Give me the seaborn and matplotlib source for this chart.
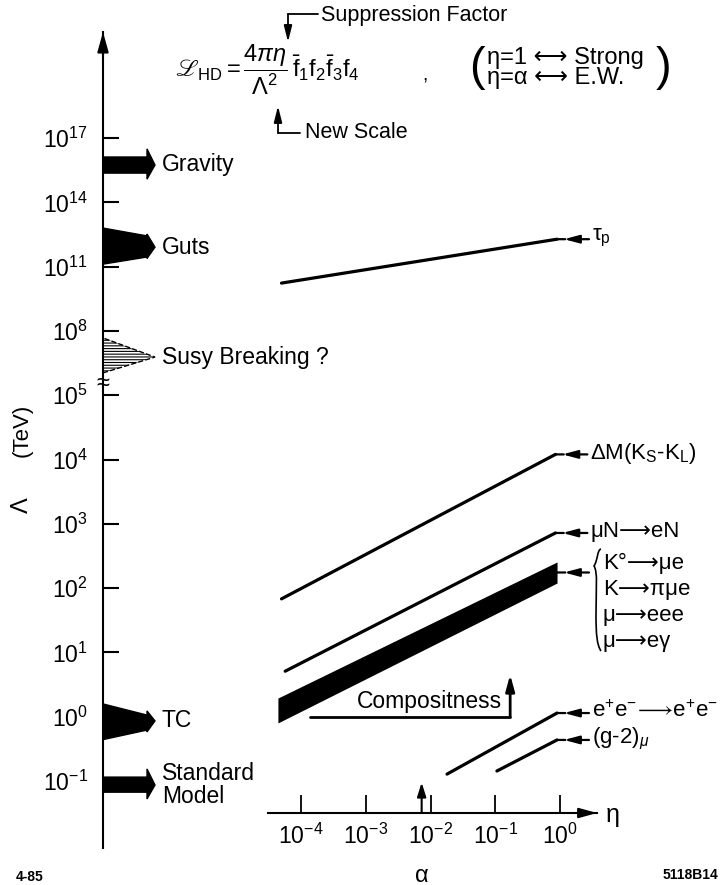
import numpy as np
import pandas as pd
import matplotlib
matplotlib.use("Agg")
import matplotlib.pyplot as plt
import matplotlib.transforms as mtransforms
from matplotlib.patches import Polygon, PathPatch
from matplotlib.path import Path
from matplotlib.lines import Line2D
from matplotlib.ticker import FixedLocator, FixedFormatter, NullLocator
import seaborn as sns

# ---------------- data ----------------
proc_labels = [r"τ$_{\rm p}$", r"ΔM(K$_{\rm S}$-K$_{\rm L}$)", "μN⟶eN",
               r"e$^{+}$e$^{-}\!\longrightarrow\!$e$^{+}$e$^{-}$", r"(g-2)$_{\mu}$"]
eta_start = [5.0e-5, 5.0e-5, 5.7e-5, 0.018, 0.106]
eta_end = [0.9, 0.85, 0.85, 0.9, 0.9]
lam_start = [1.7e10, 68.0, 5.1, 0.128, 0.143]
lam_end = [1.9e12, 1.2e4, 720.0, 1.14, 0.435]

band_eta = [4.4e-5, 0.9]
band_lo = [0.8, 120.0]
band_hi = [1.95, 255.0]
band_labels = ["K°⟶μe", "K⟶πμe", "μ⟶eee", "μ⟶eγ"]

compos_eta = [1.4e-4, 0.17]
compos_lam = 1.0
compos_arrow_top = 4.5

lam_ticks = [1e-1, 1e0, 1e1, 1e2, 1e3, 1e4, 1e5, 1e8, 1e11, 1e14, 1e17]
lam_tick_labels = [r"$10^{-1}$", r"$10^{0}$", r"$10^{1}$", r"$10^{2}$", r"$10^{3}$",
                   r"$10^{4}$", r"$10^{5}$", r"$10^{8}$", r"$10^{11}$", r"$10^{14}$",
                   r"$10^{17}$"]
eta_ticks = [1e-4, 1e-3, 1e-2, 1e-1, 1e0]
eta_tick_labels = [r"$10^{-4}$", r"$10^{-3}$", r"$10^{-2}$", r"$10^{-1}$", r"$10^{0}$"]
alpha_em = 1 / 137.0

# scales on the Lambda axis (TeV): body lo, body hi, head lo, head hi, tip
gravity_lam = [2.3e15, 1.3e16, 1.2e15, 3.1e16, 5.5e15]
sm_lam = [0.067, 0.115, 0.0525, 0.154, 0.0867]
# tapered: base lo, base hi, shoulder lo, shoulder hi, head lo, head hi, tip
guts_lam = [1.3e11, 6.3e12, 2.8e11, 2.7e12, 2.4e11, 3.3e12, 8.1e11]
tc_lam = [0.44, 1.58, 0.62, 1.06, 0.58, 1.23, 0.86]
susy_lam = [1.1e6, 4.7e7, 6.0e6]
break_lam = 3.3e5
scale_names = ["Gravity", "Guts", "Susy Breaking ?", "TC", "Standard\nModel"]

# ---------------- style ----------------
W, H = 725, 885
K = "#000000"
sns.set_theme(style="white", color_codes=False)
plt.rcParams.update({
    "font.family": ["Liberation Sans", "DejaVu Sans"],
    "mathtext.fontset": "custom",
    "mathtext.rm": "Liberation Sans",
    "mathtext.it": "Liberation Sans:italic",
    "mathtext.bf": "Liberation Sans:bold",
    "mathtext.sf": "Liberation Sans",
    "mathtext.fallback": "stix",
    "text.color": K,
    "axes.edgecolor": K,
    "xtick.color": K,
    "ytick.color": K,
    "axes.labelcolor": K,
    "hatch.linewidth": 0.8,
    "hatch.color": K,
})


def F(x, y):
    return (x / W, 1 - y / H)


PX = 64.3  # pixels per axis step


def fwd(v):
    v = np.asarray(v, dtype=float)
    lv = np.log10(np.where(v > 0, v, 1e-300))
    return np.where(lv <= 5, lv + 1, 6 + (lv - 5) / 3)


def inv(p):
    p = np.asarray(p, dtype=float)
    return np.where(p <= 6, 10.0 ** (p - 1), 10.0 ** (5 + 3 * (p - 6)))


fig = plt.figure(figsize=(W / 100, H / 100), dpi=100)
ax = fig.add_axes([103 / W, (H - 848) / H, (W - 103) / W, (848 - 32) / H])
ax.set_xscale("log")
ax.set_yscale("function", functions=(fwd, inv))

# ---------------- lines ----------------
rows = []
for lab, e0, e1, l0, l1 in zip(proc_labels, eta_start, eta_end, lam_start, lam_end):
    rows.append({"process": lab, "eta": e0, "lam": l0})
    rows.append({"process": lab, "eta": e1, "lam": l1})
df = pd.DataFrame(rows)
sns.lineplot(data=df, x="eta", y="lam", units="process", estimator=None,
             color=K, linewidth=2.3, ax=ax, legend=False, sort=False)

ax.fill_between(band_eta, band_lo, band_hi, color=K, linewidth=0)

AR = dict(arrowstyle="-|>,head_length=0.75,head_width=0.2", lw=1.6, color=K,
          shrinkA=0, shrinkB=5)
SEG = dict(arrowstyle="-", lw=1.6, color=K, shrinkA=0, shrinkB=0)

for e1, l1, lab in zip(eta_end, lam_end, proc_labels):
    ax.annotate("", xy=(e1, l1), xytext=(6, 0), textcoords="offset points", arrowprops=SEG)
    ax.annotate("", xy=(e1, l1), xytext=(23, 0), textcoords="offset points", arrowprops=AR)
    ax.annotate(lab, xy=(e1, l1), xytext=(25, 1), textcoords="offset points",
                ha="left", va="center", fontsize=16)

band_mid = float(np.sqrt(band_lo[1] * band_hi[1]))
ax.annotate("", xy=(band_eta[1], band_mid), xytext=(6, 0), textcoords="offset points",
            arrowprops=SEG)
ax.annotate("", xy=(band_eta[1], band_mid), xytext=(23, 0), textcoords="offset points",
            arrowprops=AR)
for i, lab in enumerate(band_labels):
    fig.text(*F(603, 563 + 26 * i), lab, ha="left", va="center", fontsize=16)
bx = np.array([601, 597, 598, 594, 598, 596, 596, 596, 597, 601]) / W
by = 1 - np.array([549, 550, 560, 566, 572, 590, 615, 635, 645, 651]) / H
brace = Path(np.column_stack([bx, by]), [Path.MOVETO] + [Path.CURVE4] * 9)
fig.add_artist(PathPatch(brace, transform=fig.transFigure, fc="none", ec=K, lw=1.2))

# compositeness
ax.plot(compos_eta, [compos_lam, compos_lam], color=K, lw=2.0)
ax.annotate("", xy=(compos_eta[1], compos_arrow_top), xytext=(compos_eta[1], compos_lam),
            arrowprops=dict(arrowstyle="-|>,head_length=0.8,head_width=0.22",
                            lw=2.0, color=K, shrinkA=0, shrinkB=0))
ax.annotate("Compositness", xy=(compos_eta[1], compos_lam), xytext=(-6, 3),
            textcoords="offset points", ha="right", va="bottom", fontsize=16.5)

# ---------------- Lambda axis ----------------
ax.set_xlim(10 ** (-4 + (103 - 301) / 64.75), 10 ** (-4 + (725 - 301) / 64.75))
ax.set_ylim(inv((781 - 848) / PX), inv((781 - 32) / PX))
ax.yaxis.set_major_locator(FixedLocator(lam_ticks))
ax.yaxis.set_major_formatter(FixedFormatter(lam_tick_labels))
ax.yaxis.set_minor_locator(NullLocator())
ax.tick_params(axis="y", direction="in", length=11.5, width=1.5, pad=11,
               labelsize=16.5, left=True)
ax.xaxis.set_visible(False)
ax.set_xlabel("")
ax.set_ylabel("")
for s in ["top", "right", "bottom"]:
    ax.spines[s].set_visible(False)
ax.spines["left"].set_linewidth(1.5)
ax.patch.set_alpha(0)
ax.annotate("", xy=(0, 1), xytext=(0, 0.97), xycoords="axes fraction",
            arrowprops=dict(arrowstyle="-|>,head_length=1.0,head_width=0.28",
                            lw=1.5, color=K, shrinkA=0, shrinkB=0),
            annotation_clip=False)

fig.text(*F(22, 505), "Λ", rotation=90, ha="center", va="center", fontsize=17)
fig.text(*F(22, 430), "(TeV)", rotation=90, ha="center", va="center", fontsize=16)

# scale markers on the axis
trans = mtransforms.blended_transform_factory(ax.transAxes, ax.transData)
AXW = W - 103
xb, xt = 44 / AXW, 52 / AXW


def block(v):
    return [(0, v[0]), (xb, v[0]), (xb, v[2]), (xt, v[4]), (xb, v[3]), (xb, v[1]), (0, v[1])]


def taper(v):
    return [(0, v[0]), (xb, v[2]), (xb, v[4]), (xt, v[6]), (xb, v[5]), (xb, v[3]), (0, v[1])]


for verts in [block(gravity_lam), block(sm_lam), taper(guts_lam), taper(tc_lam)]:
    ax.add_patch(Polygon(verts, closed=True, transform=trans, fc=K, ec=K,
                         lw=1, clip_on=False))
ax.add_patch(Polygon([(0, susy_lam[0]), (xt, susy_lam[2]), (0, susy_lam[1])],
                     closed=True, transform=trans, fc="none", ec=K, lw=1.0,
                     ls="--", hatch="------", clip_on=False))
ax.text(0, break_lam, "≈", transform=trans, ha="center", va="center", fontsize=17)

lx = (162 - 103) / AXW
for name, yv in zip(scale_names, [gravity_lam[4], guts_lam[6], susy_lam[2], tc_lam[6], sm_lam[4]]):
    ax.text(lx, yv, name, transform=trans, ha="left", va="center", fontsize=16.5,
            linespacing=0.95)

# ---------------- eta axis ----------------
ax_eta = fig.add_axes([268 / W, (H - 813) / H, (597 - 268) / W, 0.001])
ax_eta.set_xscale("log")
ax_eta.set_xlim(10 ** (-4 + (268 - 301) / 64.75), 10 ** (-4 + (597 - 301) / 64.75))
ax_eta.xaxis.set_major_locator(FixedLocator(eta_ticks))
ax_eta.xaxis.set_major_formatter(FixedFormatter(eta_tick_labels))
ax_eta.xaxis.set_minor_locator(NullLocator())
ax_eta.set_yticks([])
for s in ["top", "right", "left"]:
    ax_eta.spines[s].set_visible(False)
ax_eta.spines["bottom"].set_linewidth(1.5)
ax_eta.patch.set_alpha(0)
ax_eta.tick_params(axis="x", direction="in", length=13, width=1.3, pad=8,
                   labelsize=16.5, bottom=True)
ax_eta.annotate("", xy=(1, 0), xytext=(0.95, 0), xycoords="axes fraction",
                arrowprops=dict(arrowstyle="-|>,head_length=0.9,head_width=0.25",
                                lw=1.5, color=K, shrinkA=0, shrinkB=0),
                annotation_clip=False)
ax_eta.annotate("", xy=(alpha_em, 0), xycoords=("data", "axes fraction"),
                xytext=(0, 22), textcoords="offset points",
                arrowprops=dict(arrowstyle="<|-,head_length=0.7,head_width=0.22",
                                lw=1.5, color=K, shrinkA=0, shrinkB=0),
                annotation_clip=False)
ax_eta.annotate("α", xy=(alpha_em, 0), xycoords=("data", "axes fraction"),
                xytext=(0, -45), textcoords="offset points", ha="center",
                va="center", fontsize=17, annotation_clip=False)
fig.text(*F(606, 815), "η", ha="left", va="center", fontsize=18)

# ---------------- header formula ----------------
fig.text(*F(175, 70), r"$ℒ_{\rm HD}=\dfrac{4\pi\eta}{\Lambda^{2}}\,\bar{\rm f}_{1}{\rm f}_{2}\bar{\rm f}_{3}{\rm f}_{4}$",
         ha="left", va="center", fontsize=17)
ax.annotate("", xy=F(288, 42), xytext=F(288, 14), xycoords="figure fraction",
            arrowprops=dict(arrowstyle="-|>,head_length=0.8,head_width=0.2",
                            lw=1.3, color=K, shrinkA=0, shrinkB=0),
            annotation_clip=False)
fig.add_artist(Line2D([288 / W, 318 / W], [1 - 14 / H, 1 - 14 / H],
                      transform=fig.transFigure, lw=1.3, color=K))
fig.text(*F(321, 15), "Suppression Factor", ha="left", va="center", fontsize=15.5)

ax.annotate("", xy=F(278, 106), xytext=F(278, 133), xycoords="figure fraction",
            arrowprops=dict(arrowstyle="-|>,head_length=0.8,head_width=0.2",
                            lw=1.3, color=K, shrinkA=0, shrinkB=0),
            annotation_clip=False)
fig.add_artist(Line2D([278 / W, 300 / W], [1 - 133 / H, 1 - 133 / H],
                      transform=fig.transFigure, lw=1.3, color=K))
fig.text(*F(305, 133), "New Scale", ha="left", va="center", fontsize=15.5)

fig.text(*F(425, 76), ",", ha="center", va="center", fontsize=14)
fig.text(*F(477, 68), "(", ha="center", va="center", fontsize=34)
fig.text(*F(664, 68), ")", ha="center", va="center", fontsize=34)
fig.text(*F(487, 58), "η=1 ⟷ Strong", ha="left", va="center", fontsize=17)
fig.text(*F(487, 78), "η=α ⟷ E.W.", ha="left", va="center", fontsize=17)

fig.text(*F(16, 877), "4-85", ha="left", va="center", fontsize=10, fontweight="bold")
fig.text(*F(718, 875), "5118B14", ha="right", va="center", fontsize=10, fontweight="bold")

fig.savefig("out.png", dpi=100, facecolor="white")
